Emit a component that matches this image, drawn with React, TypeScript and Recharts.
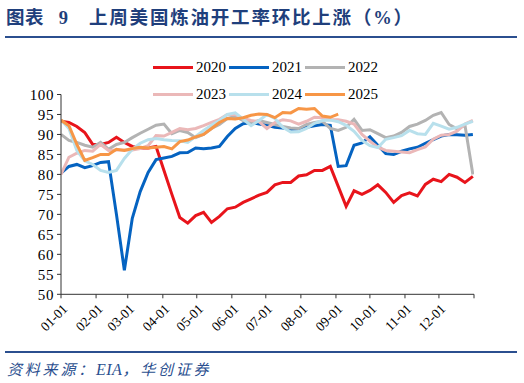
import React from 'react';
import { LineChart, Line, XAxis, YAxis } from 'recharts';

// day-of-year of each weekly observation
const weekDays = [
  0, 7, 14, 21, 28, 35, 42, 49, 56, 63, 70, 77, 84, 91, 98, 105, 112, 119, 126, 133,
  140, 147, 154, 161, 168, 175, 182, 189, 196, 203, 210, 217, 224, 231, 238, 245, 252,
  259, 266, 273, 280, 287, 294, 301, 308, 315, 322, 329, 336, 343, 350, 357, 364,
];

const s2020 = [
  93.3, 93, 92, 90.5, 87.5, 87.5, 88, 89.3, 88, 87, 86.6, 86.6, 87, 81, 75, 69.2, 67.8, 69.7,
  70.5, 68, 69.5, 71.4, 71.8, 73, 73.9, 74.8, 75.5, 77.4, 78, 78, 79.6, 79.9, 81, 81, 82, 77,
  72, 75.9, 75, 76, 77.4, 75.5, 73, 74.7, 75.4, 74.6, 77.5, 78.8, 78.2, 80, 79.3, 78, 79.5,
];
const s2021 = [
  80.3, 82, 82.5, 81.7, 82.2, 83, 83.2, 70, 56, 69, 75.7, 80.5, 83.7, 84.1, 84.5, 85.4, 85.5,
  86.6, 86.4, 86.6, 87, 89.5, 91.5, 92.7, 93, 92.6, 92.3, 91.8, 91.6, 91.3, 91.4, 91.8, 92.2,
  92.5, 92.3, 82, 82.2, 87.3, 87.9, 89.4, 87.3, 85.2, 85, 85.8, 86.4, 86.8, 87.8, 88.7, 89.6,
  90, 89.9, 89.8, 90,
];
const s2022 = [
  90, 88.5, 88, 87.3, 86.8, 88, 86.3, 87.5, 88, 89.2, 90.3, 91.3, 92.3, 92.6, 90.2, 91, 90.5,
  89.2, 90, 91.5, 92.5, 94, 94.5, 93.5, 93, 93.5, 93, 92.5, 92, 91.6, 91.5, 92.5, 93, 93.3,
  91.5, 91, 91.8, 93.8, 91, 91.2, 90.2, 89.2, 89.6, 90.5, 92, 92.6, 93.5, 94.8, 95.5, 92.5,
  91.4, 92.3, 80,
];
const s2023 = [
  80, 84.3, 85.3, 86, 85.8, 87.5, 86, 86.1, 86.1, 86.1, 86.5, 87.2, 89.7, 89.6, 90.5, 91.5,
  91.2, 91.5, 92.2, 93, 93.8, 95, 95, 94, 93.5, 93.2, 91.5, 93, 93.7, 93.4, 92.6, 93.3, 94.3,
  94.2, 93.7, 93.7, 93.3, 92.6, 90, 88.3, 86.8, 86, 85.8, 85.6, 85.4, 86.2, 86.9, 88.8, 89.8,
  90, 90.8, 92.6, 93.5,
];
const s2024 = [
  93.6, 91.5, 86, 83.4, 82.5, 81, 80.5, 81, 84, 86.3, 87.8, 88.7, 89, 88.7, 88.5, 88.4, 88,
  89.5, 91, 92.3, 93.5, 95, 95.4, 93.8, 92.2, 93.5, 95, 94, 91.8, 90.6, 90.7, 91.5, 92.8,
  93.5, 93.6, 93.2, 92.3, 90.8, 88.5, 87.2, 86.7, 88.8, 89.2, 89.7, 91, 90.2, 90, 92.8, 92.1,
  91.3, 91.8, 92.6, 93.3,
];
const s2025 = [
  93.6, 92.2, 87.5, 83.5, 84.2, 85, 85, 86.3, 86, 86.5, 86.8, 86.6, 86.8, 87, 86.4, 88.2,
  88.6, 89.4, 90, 91.5, 93, 94, 93.9, 94.2, 94.8, 95.1, 95, 94.2, 95.5, 95.4, 96.5, 96.3,
  96.5, 94.6, 94.3, 95.1,
];

const seriesNames = ['2020', '2021', '2022', '2023', '2024', '2025'];
const seriesValues = [s2020, s2021, s2022, s2023, s2024, s2025];
const seriesColors = ['#e8141b', '#0563c1', '#b3b3b3', '#ebb8b8', '#b8e0ec', '#f79646'];

const monthTicks = [0, 31, 59, 90, 120, 151, 181, 212, 243, 273, 304, 334, 365];
const monthLabels = [
  '01-01', '02-01', '03-01', '04-01', '05-01', '06-01', '07-01', '08-01', '09-01',
  '10-01', '11-01', '12-01', '',
];
const yTicks = [50, 55, 60, 65, 70, 75, 80, 85, 90, 95, 100];

const data = weekDays.map((d, i) => {
  const row: Record<string, number> = { day: d };
  seriesNames.forEach((n, j) => {
    const v = seriesValues[j][i];
    if (v !== undefined) row[n] = v;
  });
  return row;
});

const SERIF = '"Liberation Serif", "Times New Roman", serif';
const CJK = '"Noto Sans CJK SC", "Noto Sans", sans-serif';
const NAVY = '#1f3f7c';
const RULE = '#2b4f8f';

const XTick = (props: any) => {
  const { x, y, payload } = props;
  const idx = monthTicks.indexOf(payload.value);
  const label = idx >= 0 ? monthLabels[idx] : '';
  return (
    <g transform={`translate(${x + 4},${y + 6})`}>
      <text
        x={0}
        y={0}
        dy="0.35em"
        textAnchor="end"
        transform="rotate(-45)"
        fontFamily={SERIF}
        fontSize={13.5}
        fill="#000"
      >
        {label}
      </text>
    </g>
  );
};

const legendLayout = [
  { left: 153, top: 67 },
  { left: 229, top: 67 },
  { left: 305, top: 67 },
  { left: 153, top: 94 },
  { left: 229, top: 94 },
  { left: 305, top: 94 },
];

export default function App() {
  return (
    <div
      style={{
        position: 'absolute',
        left: 0,
        top: 0,
        width: 524,
        height: 383,
        background: '#fff',
        overflow: 'hidden',
      }}
    >
      {/* title */}
      <div
        style={{
          position: 'absolute',
          left: 6,
          top: 4,
          fontFamily: CJK,
          fontWeight: 700,
          fontSize: 18.5,
          color: NAVY,
          whiteSpace: 'nowrap',
          letterSpacing: 0.5,
          lineHeight: '24px',
        }}
      >
        图表 <span style={{ fontFamily: SERIF, marginLeft: 10 }}>9</span>
      </div>
      <div
        style={{
          position: 'absolute',
          left: 89,
          top: 4,
          fontFamily: CJK,
          fontWeight: 700,
          fontSize: 18.5,
          color: NAVY,
          whiteSpace: 'nowrap',
          letterSpacing: 1.8,
          lineHeight: '24px',
        }}
      >
        上周美国炼油开工率环比上涨（<span style={{ fontFamily: SERIF }}>%</span>）
      </div>
      <div
        style={{
          position: 'absolute',
          left: 5,
          top: 36,
          width: 512,
          height: 2,
          background: RULE,
        }}
      />

      {/* chart */}
      <div style={{ position: 'absolute', left: 0, top: 0 }}>
        <LineChart
          width={524}
          height={383}
          data={data}
          margin={{ top: 94.5, right: 50, bottom: 38.7, left: 0 }}
        >
          <XAxis
            dataKey="day"
            type="number"
            domain={[0, 365]}
            ticks={monthTicks}
            interval={0}
            height={50}
            tickSize={4}
            tickMargin={2}
            axisLine={{ stroke: '#333', strokeWidth: 1 }}
            tickLine={{ stroke: '#333', strokeWidth: 1 }}
            tick={<XTick />}
            allowDataOverflow
          />
          <YAxis
            type="number"
            domain={[50, 100]}
            ticks={yTicks}
            interval={0}
            width={61}
            tickSize={4}
            tickMargin={3}
            axisLine={{ stroke: '#333', strokeWidth: 1 }}
            tickLine={{ stroke: '#333', strokeWidth: 1 }}
            tick={{ fontFamily: SERIF, fontSize: 15, fill: '#000', letterSpacing: 0.6 }}
            allowDataOverflow
          />
          {seriesNames.map((n, j) => (
            <Line
              key={n}
              type="linear"
              dataKey={n}
              stroke={seriesColors[j]}
              strokeWidth={3}
              dot={false}
              activeDot={false}
              isAnimationActive={false}
              connectNulls={false}
            />
          ))}
        </LineChart>
      </div>

      {/* legend */}
      {seriesNames.map((n, j) => (
        <div
          key={n}
          style={{
            position: 'absolute',
            left: legendLayout[j].left,
            top: legendLayout[j].top - 9,
            height: 18,
            display: 'flex',
            alignItems: 'center',
            whiteSpace: 'nowrap',
          }}
        >
          <div style={{ width: 40, height: 3, background: seriesColors[j] }} />
          <span
            style={{
              marginLeft: 3,
              fontFamily: SERIF,
              fontSize: 15,
              color: '#000',
              lineHeight: '18px',
            }}
          >
            {n}
          </span>
        </div>
      ))}

      {/* footer */}
      <div
        style={{
          position: 'absolute',
          left: 5,
          top: 351,
          width: 512,
          height: 1.5,
          background: RULE,
        }}
      />
      <div
        style={{
          position: 'absolute',
          left: 7,
          top: 359,
          fontFamily: CJK,
          fontStyle: 'italic',
          fontSize: 15,
          color: RULE,
          whiteSpace: 'nowrap',
          letterSpacing: 2.8,
          lineHeight: '20px',
        }}
      >
        资料来源：<span style={{ fontFamily: SERIF, fontSize: 16, letterSpacing: 0.5 }}>EIA</span>，华创证券
      </div>
    </div>
  );
}
